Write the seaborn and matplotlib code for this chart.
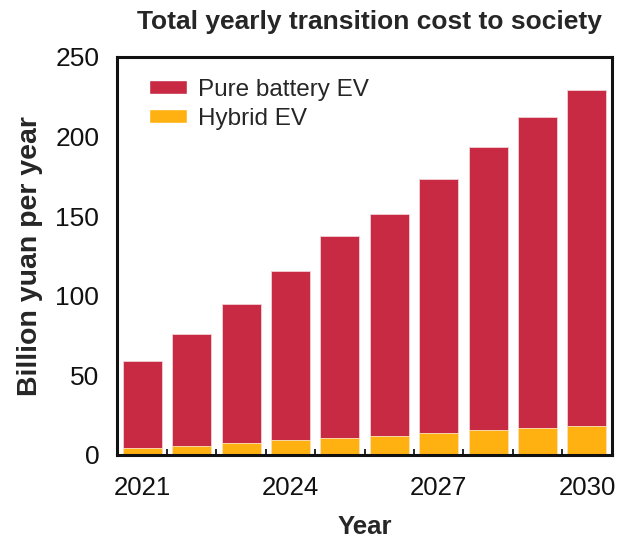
import warnings
warnings.filterwarnings("ignore")
import matplotlib
matplotlib.use("Agg")
import matplotlib.pyplot as plt
import matplotlib.ticker as mticker
from matplotlib.patches import Patch
import numpy as np
import seaborn as sns

sns.set_style("white")
plt.rcParams['font.family'] = ['Liberation Sans', 'DejaVu Sans']

years = [2021, 2022, 2023, 2024, 2025, 2026, 2027, 2028, 2029, 2030]
hybrid_ev = [4.4, 5.9, 7.4, 9.1, 10.8, 12.2, 13.7, 15.4, 17.1, 18.4]
pure_battery_ev = [54.5, 70.2, 87.3, 106.7, 126.7, 139.1, 159.3, 178.1, 195.4, 210.5]
shown_years = ['2021', '2024', '2027', '2030']

RED = '#C82A44'
ORANGE = '#FFB111'

total = [h + p for h, p in zip(hybrid_ev, pure_battery_ev)]
xcat = [str(y) for y in years]

fig = plt.figure(figsize=(6.37, 5.41), dpi=100)
ax = fig.add_axes([0.184, 0.159, 0.777, 0.736])

# stacked: draw totals in red, then hybrid over the bottom part
sns.barplot(x=xcat, y=total, color=RED, saturation=1, width=0.79, ax=ax,
            edgecolor='#f3d0d6', linewidth=0.6)
sns.barplot(x=xcat, y=hybrid_ev, color=ORANGE, saturation=1, width=0.79, ax=ax,
            edgecolor='#fbe6bd', linewidth=0.6)

ax.set_xlim(-0.51, 9.51)
ax.set_ylim(0, 250)
ax.set_yticks([0, 50, 100, 150, 200, 250])
ax.set_xticks([xcat.index(s) for s in shown_years])
ax.set_xticklabels(shown_years)
ax.xaxis.set_minor_locator(mticker.FixedLocator(np.arange(0.5, 9, 1)))

ax.tick_params(axis='y', direction='in', length=6, width=1.6, labelsize=19, pad=13, colors='#111111')
ax.tick_params(axis='x', which='major', length=0, labelsize=18.5, pad=15, colors='#111111')
ax.tick_params(axis='x', which='minor', direction='in', length=4, width=1.4, bottom=True)
for s in ax.spines.values():
    s.set_linewidth(2.2)
    s.set_color('#111111')

ax.set_xlabel('Year', fontsize=18.5, fontweight='bold', labelpad=11)
ax.set_ylabel('Billion yuan per year', fontsize=20.5, fontweight='bold', labelpad=9)
ax.set_title('Total yearly transition cost to society', fontsize=19, fontweight='bold', pad=20, x=0.51)

handles = [Patch(facecolor=RED, label='Pure battery EV'),
           Patch(facecolor=ORANGE, label='Hybrid EV')]
ax.legend(handles=handles, loc='upper left', bbox_to_anchor=(0.02, 1.0), frameon=False,
          fontsize=17.5, handlelength=1.55, handleheight=0.5, handletextpad=0.45, labelspacing=0.3)

plt.savefig('out.png', dpi=100)
